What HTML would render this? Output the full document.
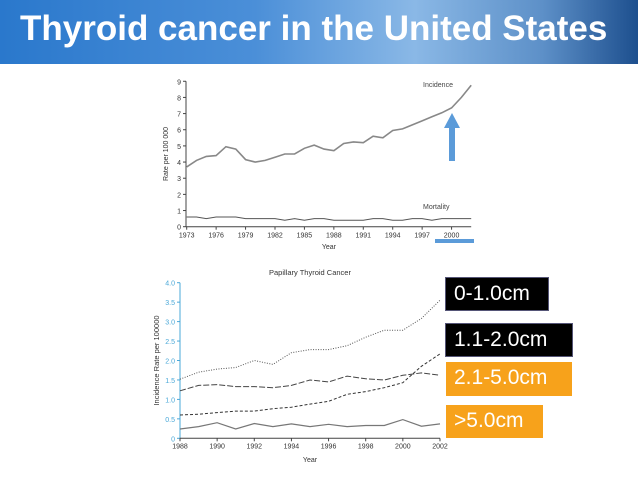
<!DOCTYPE html>
<html><head><meta charset="utf-8"><style>
body{margin:0;width:638px;height:479px;background:#fff;overflow:hidden;font-family:"Liberation Sans",sans-serif;position:relative}
#hdr{position:absolute;left:0;top:0;width:638px;height:64px;background:linear-gradient(90deg,#2a78cc 0%,#4b8fd8 40%,#8ab8e6 65%,#5d90c8 85%,#1d4f8e 100%)}
#hdr h1{position:absolute;left:20px;top:9px;margin:0;color:#fff;font-size:35px;font-weight:bold;white-space:nowrap}
.lbl{position:absolute;color:#fff;font-size:21px;line-height:32px;padding-left:8px;box-sizing:border-box}
svg{position:absolute;left:0;top:0}
</style></head><body>
<div id="hdr"><h1>Thyroid cancer in the United States</h1></div>
<svg id="c" width="638" height="479"></svg>
<div class="lbl" style="left:445px;top:277px;width:104px;height:34px;background:#000;border:1px solid #557">0-1.0cm</div>
<div class="lbl" style="left:445px;top:323px;width:128px;height:34px;background:#000;border:1px solid #557">1.1-2.0cm</div>
<div class="lbl" style="left:446px;top:362px;width:126px;height:34px;background:#f7a21b">2.1-5.0cm</div>
<div class="lbl" style="left:446px;top:405px;width:97px;height:33px;background:#f7a21b">&gt;5.0cm</div>
<script>
const topYears=[];for(let y=1973;y<=2002;y++)topYears.push(y);
const incidence=[3.7,4.1,4.35,4.4,4.95,4.8,4.15,4.0,4.1,4.3,4.5,4.5,4.85,5.05,4.8,4.7,5.15,5.25,5.2,5.6,5.5,5.95,6.05,6.3,6.55,6.8,7.05,7.35,8.0,8.75];
const mortality=[0.6,0.6,0.5,0.6,0.6,0.6,0.5,0.5,0.5,0.5,0.4,0.5,0.4,0.5,0.5,0.4,0.4,0.4,0.4,0.5,0.5,0.4,0.4,0.5,0.5,0.4,0.5,0.5,0.5,0.5];
const topYTicks=[0,1,2,3,4,5,6,7,8,9];
const topXTicks=[1973,1976,1979,1982,1985,1988,1991,1994,1997,2000];
const botYears=[];for(let y=1988;y<=2002;y++)botYears.push(y);
const s0to1=[1.52,1.7,1.78,1.82,2.0,1.9,2.2,2.28,2.28,2.38,2.6,2.78,2.78,3.08,3.55];
const s1to2=[0.6,0.62,0.66,0.7,0.7,0.76,0.8,0.88,0.95,1.13,1.2,1.3,1.43,1.85,2.17];
const s2to5=[1.22,1.36,1.38,1.33,1.33,1.3,1.36,1.5,1.45,1.6,1.53,1.5,1.62,1.68,1.62];
const sOver5=[0.24,0.3,0.4,0.24,0.38,0.3,0.37,0.3,0.36,0.3,0.33,0.33,0.48,0.31,0.37];
const botYTicks=[0,0.5,1.0,1.5,2.0,2.5,3.0,3.5,4.0];
const botXTicks=[1988,1990,1992,1994,1996,1998,2000,2002];
const svg=document.getElementById('c');const NS='http://www.w3.org/2000/svg';
function mk(t,a,txt){const e=document.createElementNS(NS,t);for(const k in a)e.setAttribute(k,a[k]);if(txt!==undefined)e.textContent=txt;svg.appendChild(e);return e;}
const tx=y=>186.7+(y-1973)*9.81, ty=v=>226.7-v*16.16;
let e=mk('line',{x1:186,y1:ty(9),x2:186,y2:ty(0),stroke:'#444'});


e=mk('line',{x1:186,y1:ty(0),x2:tx(2002),y2:ty(0),stroke:'#444'});


topYTicks.forEach(v=>{mk('line',{x1:183,y1:ty(v),x2:186,y2:ty(v),stroke:'#444'});
e=mk('text',{x:181,y:ty(v)+3,'font-size':7,'text-anchor':'end',fill:'#333'},v);

});
topXTicks.forEach(v=>{mk('line',{x1:tx(v),y1:ty(0),x2:tx(v),y2:ty(0)+3,stroke:'#444'});
e=mk('text',{x:tx(v),y:ty(0)+11,'font-size':7,'text-anchor':'middle',fill:'#333'},v);

});
e=mk('text',{x:tx(1987.5),y:249,'font-size':7,'text-anchor':'middle',fill:'#333'},'Year');


e=mk('text',{x:0,y:0,'font-size':7,'text-anchor':'middle',fill:'#333',transform:'translate(168,'+ty(4.5)+') rotate(-90)'},'Rate per 100 000');


function line(xs,vs,fx,fy,st,dash,w,name){const p=xs.map((x,i)=>fx(x).toFixed(1)+','+fy(vs[i]).toFixed(1)).join(' ');
const el=mk('polyline',{points:p,fill:'none',stroke:st,'stroke-width':w,'stroke-dasharray':dash||'none'});

}
line(topYears,incidence,tx,ty,'#888','',1.6,'incidence-line');
line(topYears,mortality,tx,ty,'#555','',1,'mortality-line');
e=mk('text',{x:423,y:87,'font-size':7,fill:'#444'},'Incidence');


e=mk('text',{x:423,y:209,'font-size':7,fill:'#444'},'Mortality');


e=mk('path',{d:'M449,161 L455,161 L455,128 L460,128 L452,113 L444,128 L449,128 Z',fill:'#5b9bd9'});


e=mk('rect',{x:435,y:239,width:39,height:4,fill:'#5b9bd9'});


const bx=y=>180+(y-1988)*18.57, by=v=>438.3-v*38.9;
e=mk('line',{x1:180,y1:by(4),x2:180,y2:by(0),stroke:'#4aa8d8'});


e=mk('line',{x1:180,y1:by(0),x2:bx(2002),y2:by(0),stroke:'#444'});


botYTicks.forEach(v=>{mk('line',{x1:177,y1:by(v),x2:180,y2:by(v),stroke:'#4aa8d8'});
e=mk('text',{x:175,y:by(v)+3,'font-size':7,'text-anchor':'end',fill:'#4aa8d8'},v===0?'0':v.toFixed(1));

});
botXTicks.forEach(v=>{mk('line',{x1:bx(v),y1:by(0),x2:bx(v),y2:by(0)+3,stroke:'#444'});
e=mk('text',{x:bx(v),y:by(0)+10,'font-size':7,'text-anchor':'middle',fill:'#333'},v);

});
e=mk('text',{x:310,y:462,'font-size':7,'text-anchor':'middle',fill:'#333'},'Year');


e=mk('text',{x:0,y:0,'font-size':7.5,'text-anchor':'middle',fill:'#333',transform:'translate(159,'+by(2)+') rotate(-90)'},'Incidence Rate per 100000');


e=mk('text',{x:310,y:275,'font-size':7.5,'text-anchor':'middle',fill:'#333'},'Papillary Thyroid Cancer');


line(botYears,s0to1,bx,by,'#555','1,1.5',1,'series-0-1cm');
line(botYears,s1to2,bx,by,'#333','3,2',1,'series-1-2cm');
line(botYears,s2to5,bx,by,'#444','6,2',1,'series-2-5cm');
line(botYears,sOver5,bx,by,'#777','',1.2,'series-over-5cm');
</script>
</body></html>
